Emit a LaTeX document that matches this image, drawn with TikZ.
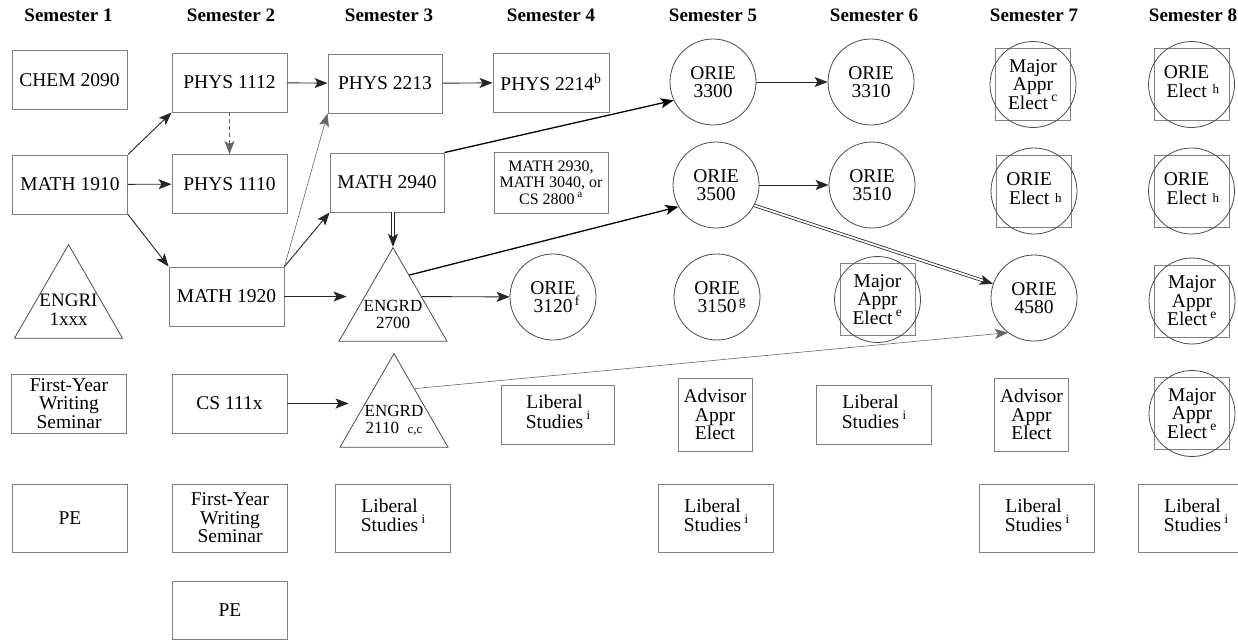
\documentclass[tikz,border=0pt]{standalone}
\usepackage{fontspec}
\setmainfont{Liberation Serif}
\usetikzlibrary{arrows.meta,positioning,shapes.geometric,calc}
\newcommand{\fn}[1]{\,\textsuperscript{#1}}
\newcommand{\fnr}[1]{\rlap{\textsuperscript{\,#1}}}
\newcommand{\twostack}[3][0pt]{\begin{tabular}{@{}c@{}}#2\end{tabular}\,\raisebox{#1}{\fontsize{13}{13}\selectfont #3}}
\tikzset{
  course/.style={draw=black!50, line width=0.9pt, minimum width=115pt, minimum height=59pt, align=center, inner sep=1pt, font=\fontsize{19.5}{18.5}\selectfont},
  smallbox/.style={course, minimum width=74pt, minimum height=73pt},
  elect/.style={course, minimum width=75pt, minimum height=72pt},
  orie/.style={circle, draw=black!70, line width=0.8pt, minimum size=86pt, inner sep=0pt, align=center, font=\fontsize{19.5}{18.5}\selectfont},
  ring/.style={draw=black!70, line width=0.8pt},
  engr/.style={regular polygon, regular polygon sides=3, draw=black!70, line width=0.8pt, minimum size=124.7pt, inner sep=0pt},
  engrtext/.style={align=center, inner sep=0pt, font=\fontsize{17}{17}\selectfont},
  sem/.style={font=\fontsize{19}{19}\selectfont\bfseries},
  arrow/.style={-{Stealth[length=13pt, width=10pt, inset=3pt]}, line width=0.9pt, black!85},
  bold arrow/.style={arrow, line width=1.3pt, black},
  thin arrow/.style={arrow, line width=0.6pt, black!60},
  double arrow/.style={arrow, line width=0.8pt, double=white, double distance=1.8pt},
}

\begin{document}
\begin{tikzpicture}[x=1pt, y=1pt]
  \useasboundingbox (0,0) rectangle (1238,-640);

  % semester headings
  \node[sem] (sem1) at (68.5,-15) {Semester 1};
  \node[sem] (sem2) at (231,-15) {Semester 2};
  \node[sem] (sem3) at (389,-15) {Semester 3};
  \node[sem] (sem4) at (551,-15) {Semester 4};
  \node[sem] (sem5) at (713,-15) {Semester 5};
  \node[sem] (sem6) at (874,-15) {Semester 6};
  \node[sem] (sem7) at (1034,-15) {Semester 7};
  \node[sem] (sem8) at (1193,-15) {Semester 8};

  % row 1
  \node[course] (chem2090) at (69.5,-80) {CHEM 2090};
  \node[course] (phys1112) at (229.5,-82.5) {PHYS 1112};
  \node[course, minimum width=114pt] (phys2213) at (385,-83.5) {PHYS 2213};
  \node[course, minimum width=116pt] (phys2214) at (551,-82.5) {PHYS 2214\textsuperscript{b}};
  \node[orie] (orie3300) at (713,-82) {ORIE\\3300};
  \node[orie] (orie3310) at (871,-82) {ORIE\\3310};
  \node[elect] (selectA) at (1033,-84.5) {Major\\Appr\\Elect\fn{c}};
  \node[elect] (eelectA) at (1191.5,-84.5) {\twostack[-4pt]{ORIE\\Elect}{h}};

  % row 2
  \node[course] (math1910) at (70,-184.5) {MATH 1910};
  \node[course] (phys1110) at (229.5,-184) {PHYS 1110};
  \node[course, minimum width=114pt] (math2940) at (387,-182.5) {MATH 2940};
  \node[course, minimum width=114pt, minimum height=61pt, inner sep=0pt, font=\fontsize{16}{16.5}\selectfont] (math2930) at (551,-182.5) {MATH 2930,\\MATH 3040, or\\CS 2800\fn{a}};
  \node[orie] (orie3500) at (716,-185) {ORIE\\3500};
  \node[orie] (orie3510) at (872,-185) {ORIE\\3510};
  \node[elect] (selectB) at (1034,-191) {\twostack[-6pt]{ORIE\\Elect}{h}};
  \node[elect] (eelectB) at (1191.5,-191) {\twostack[-6pt]{ORIE\\Elect}{h}};

  % row 3
  \node[engr, label={[engrtext, font=\fontsize{19}{19}\selectfont, yshift=-3pt]center:{ENGRI\\1xxx}}] (engri) at (68.5,-307) {};
  \node[course] (math1920) at (226.5,-296.5) {MATH 1920};
  \node[engr, label={[engrtext, yshift=-4pt]center:{ENGRD\\2700}}] (engrd2700) at (393,-310) {};
  \node[orie] (orie3120) at (553,-297) {ORIE\\3120\fnr{f}};
  \node[orie] (orie3150) at (717,-297) {ORIE\\3150\fnr{g}};
  \node[elect] (xelect) at (877.5,-299.5) {Major\\Appr\\Elect\fn{e}};
  \node[orie] (orie4580) at (1034,-298) {ORIE\\4580};
  \node[elect] (eelectC) at (1192,-301) {Major\\Appr\\Elect\fn{e}};

  % row 4
  \node[course] (fywsA) at (69,-403.5) {First-Year\\Writing\\Seminar};
  \node[course] (cs111x) at (229.5,-403.5) {CS 111x};
  \node[engr, label={[engrtext, yshift=-4pt]center:{ENGRD\\2110\ \ {\fontsize{13}{13}\selectfont c,c}}}] (engrd2110) at (394,-416) {};
  \node[course, minimum width=113pt] (libD) at (558,-414.5) {\twostack{Liberal\\Studies}{i}};
  \node[smallbox] (advE) at (715,-414.5) {Advisor\\Appr\\Elect};
  \node[course] (libF) at (874,-414.5) {\twostack{Liberal\\Studies}{i}};
  \node[smallbox] (advG) at (1031.5,-414.5) {Advisor\\Appr\\Elect};
  \node[elect] (eelectD) at (1192,-413.5) {Major\\Appr\\Elect\fn{e}};

  % row 5 and 6
  \node[course, minimum height=68pt] (peA) at (70,-518) {PE};
  \node[course, minimum height=68pt] (fywsB) at (230,-518) {First-Year\\Writing\\Seminar};
  \node[course, minimum height=68pt] (libC) at (393,-518) {\twostack{Liberal\\Studies}{i}};
  \node[course, minimum height=68pt] (libE) at (716,-518) {\twostack{Liberal\\Studies}{i}};
  \node[course, minimum height=68pt] (libG) at (1037,-518) {\twostack{Liberal\\Studies}{i}};
  \node[course, minimum height=68pt] (libH) at (1196,-518) {\twostack{Liberal\\Studies}{i}};
  \node[course, minimum height=58pt] (peB) at (230,-610) {PE};

  % circles round the elective squares
  \draw[ring] (selectA.center) circle (43pt);
  \draw[ring] (eelectA.center) circle (43pt);
  \draw[ring] (selectB.center) circle (43pt);
  \draw[ring] (eelectB.center) circle (43pt);
  \draw[ring] (xelect.center) circle (43pt);
  \draw[ring] (eelectC.center) circle (43pt);
  \draw[ring] (eelectD.center) circle (43pt);

  % prerequisites
  \draw[arrow] (math1910.north east) -- (phys1112.south west);
  \draw[arrow] (math1910) -- (phys1110);
  \draw[arrow] (math1910.south east) -- (math1920.north west);
  \draw[arrow, dash pattern=on 4pt off 3pt, black!60] (phys1112) -- (phys1110);
  \draw[arrow] (phys1112) -- (phys2213);
  \draw[thin arrow] (math1920.north east) -- (phys2213.south west);
  \draw[arrow] (math1920.north east) -- (math2940.south west);
  \draw[arrow, shorten >=10pt] (math1920) -- (math1920 -| engrd2700.west);
  \draw[double arrow] (engrd2700.north |- math2940.south) -- (engrd2700.north);
  \draw[arrow, shorten >=9pt] (cs111x) -- (cs111x -| engrd2110.west);
  \draw[arrow] (phys2213) -- (phys2214);
  \draw[bold arrow] (math2940.north east) -- (orie3300.205);
  \draw[bold arrow] (engrd2700.65) -- (orie3500.210);
  \draw[arrow] (engrd2700.25) -- (orie3120);
  \draw[arrow] (orie3300) -- (orie3310);
  \draw[arrow] (orie3500) -- (orie3510);
  \draw[double arrow] (orie3500.-28) -- (orie4580.161);
  \draw[thin arrow] (engrd2110.53) -- (orie4580.233);
\end{tikzpicture}
\end{document}
